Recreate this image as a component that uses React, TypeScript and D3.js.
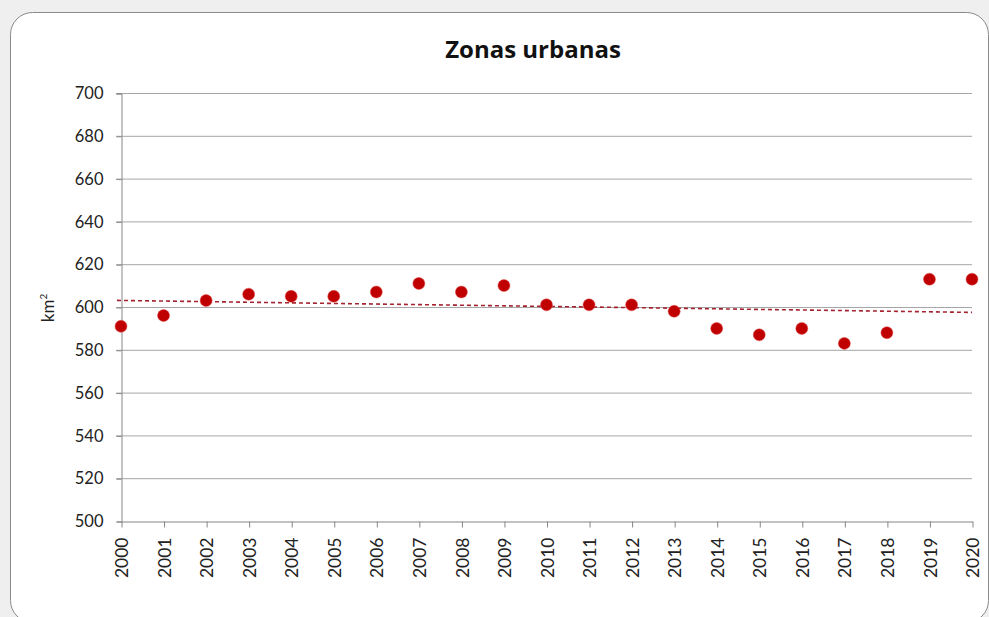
import { useEffect, useRef } from "react"
import * as d3 from "d3"

// Zonas urbanas (km²) per year
const years = [2000, 2001, 2002, 2003, 2004, 2005, 2006, 2007, 2008, 2009, 2010, 2011, 2012, 2013, 2014, 2015, 2016, 2017, 2018, 2019, 2020]
const values = [591, 596, 603, 606, 605, 605, 607, 611, 607, 610, 601, 601, 601, 598, 590, 587, 590, 583, 588, 613, 613]
const yTicks = [500, 520, 540, 560, 580, 600, 620, 640, 660, 680, 700]

const font = "Lato, 'Open Sans', sans-serif"

export default function App() {
  const svgRef = useRef<SVGSVGElement>(null)

  useEffect(() => {
    if (!svgRef.current) return
    const W = 989
    const H = 617
    const margin = { top: 93, right: 17, bottom: 96, left: 121 }

    const root = d3.select(svgRef.current)
    root.selectAll("*").remove()
    root.attr("width", W).attr("height", H)

    // page background + rounded frame
    root.append("rect").attr("width", W).attr("height", H).attr("fill", "#efefef")
    root
      .append("rect")
      .attr("x", 10.5)
      .attr("y", 12.5)
      .attr("width", 978)
      .attr("height", 610)
      .attr("rx", 22)
      .attr("fill", "#ffffff")
      .attr("stroke", "#8a8a8a")
      .attr("stroke-width", 1)

    const x = d3.scaleLinear().domain([2000, 2020]).range([margin.left, W - margin.right])
    const y = d3.scaleLinear().domain([500, 700]).range([H - margin.bottom, margin.top])

    // gridlines
    root
      .append("g")
      .selectAll("line")
      .data(yTicks.filter((t) => t !== 500))
      .join("line")
      .attr("x1", margin.left - 5)
      .attr("x2", W - margin.right)
      .attr("y1", (d) => y(d) + 0.5)
      .attr("y2", (d) => y(d) + 0.5)
      .attr("stroke", "#a6a6a6")
      .attr("stroke-width", 1)

    // y axis
    const yAxis = root
      .append("g")
      .attr("transform", `translate(${margin.left + 0.5},0.5)`)
      .call(d3.axisLeft(y).tickValues(yTicks).tickSize(5).tickPadding(13))
    yAxis.select(".domain").attr("stroke", "#868686")
    yAxis.selectAll(".tick line").attr("stroke", "#868686")
    yAxis
      .selectAll(".tick text")
      .attr("font-family", font)
      .attr("font-size", 16.5)
      .attr("fill", "#222")

    // x axis
    const xAxis = root
      .append("g")
      .attr("transform", `translate(0.5,${H - margin.bottom + 0.5})`)
      .call(d3.axisBottom(x).tickValues(years).tickFormat(d3.format("d")).tickSize(6).tickSizeOuter(0))
    xAxis.select(".domain").attr("stroke", "#868686")
    xAxis.selectAll(".tick line").attr("stroke", "#868686")
    xAxis
      .selectAll(".tick text")
      .attr("font-family", font)
      .attr("font-size", 17.5)
      .attr("fill", "#222")
      .attr("transform", "rotate(-90)")
      .attr("text-anchor", "end")
      .attr("dy", "0.35em")
      .attr("y", 0)
      .attr("x", -16)

    // linear trend line
    const n = years.length
    const mx = d3.mean(years) as number
    const my = d3.mean(values) as number
    let sxy = 0
    let sxx = 0
    years.forEach((yr, i) => {
      sxy += (yr - mx) * (values[i] - my)
      sxx += (yr - mx) * (yr - mx)
    })
    const slope = sxy / sxx
    const trend = (yr: number) => my + slope * (yr - mx)
    root
      .append("line")
      .attr("x1", x(years[0]) - 4)
      .attr("x2", x(years[n - 1]))
      .attr("y1", y(trend(years[0])))
      .attr("y2", y(trend(years[n - 1])))
      .attr("stroke", "#a3232e")
      .attr("stroke-width", 1.6)
      .attr("stroke-dasharray", "4,3")

    // points
    root
      .append("g")
      .selectAll("circle")
      .data(values)
      .join("circle")
      .attr("cx", (_, i) => x(years[i]))
      .attr("cy", (d) => y(d))
      .attr("r", 6)
      .attr("fill", "#c00000")
      .attr("stroke", "#e05050")
      .attr("stroke-opacity", 0.5)
      .attr("stroke-width", 1)

    // title
    root
      .append("text")
      .attr("x", 533)
      .attr("y", 58)
      .attr("text-anchor", "middle")
      .attr("font-family", "'Open Sans', Lato, sans-serif")
      .attr("font-weight", "bold")
      .attr("font-size", 24)
      .attr("fill", "#111")
      .text("Zonas urbanas")

    // y axis title km²
    const yt = root
      .append("text")
      .attr("transform", "translate(54,308) rotate(-90)")
      .attr("text-anchor", "middle")
      .attr("font-family", font)
      .attr("font-size", 17)
      .attr("fill", "#222")
    yt.append("tspan").text("km")
    yt.append("tspan").attr("font-size", 10).attr("dy", -7).text("2")
  }, [])

  return <svg ref={svgRef} style={{ position: "absolute", left: 0, top: 0, display: "block" }} />
}
